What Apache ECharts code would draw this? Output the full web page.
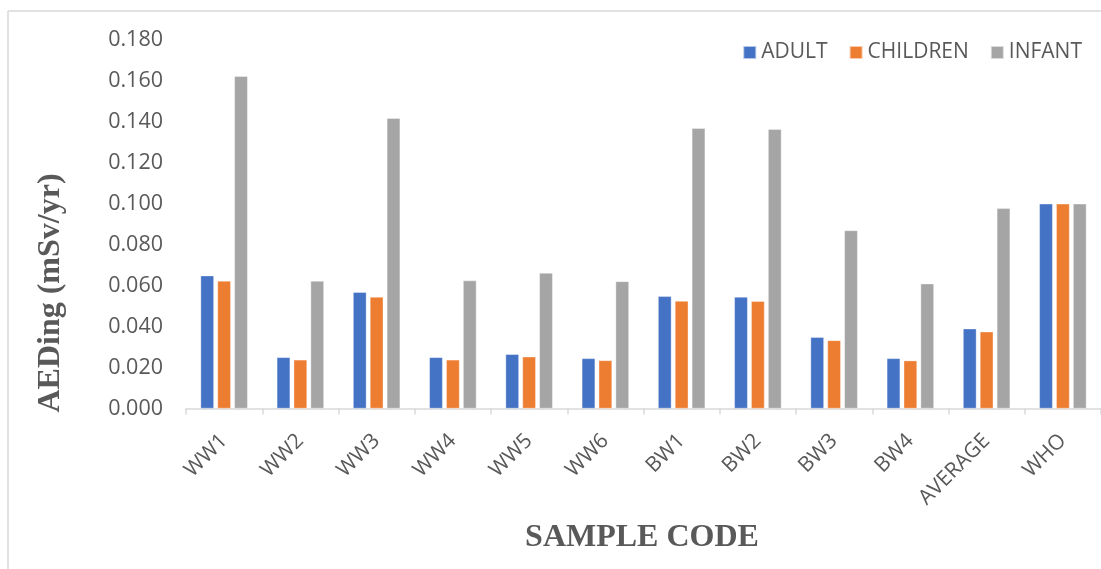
<!DOCTYPE html>
<html>
<head>
<meta charset="utf-8">
<script src="https://cdn.jsdelivr.net/npm/echarts@6/dist/echarts.min.js"></script>
<style>
html,body{margin:0;padding:0;background:#fff;}
#chart{width:1101px;height:569px;}
</style>
</head>
<body>
<div id="chart"></div>
<script>
var categories = ['WW1','WW2','WW3','WW4','WW5','WW6','BW1','BW2','BW3','BW4','AVERAGE','WHO'];
var adult    = [0.0649, 0.0250, 0.0568, 0.0250, 0.0265, 0.0245, 0.0548, 0.0545, 0.0348, 0.0245, 0.0390, 0.1000];
var children = [0.0623, 0.0238, 0.0545, 0.0238, 0.0253, 0.0235, 0.0525, 0.0524, 0.0333, 0.0234, 0.0375, 0.1000];
var infant   = [0.1623, 0.0623, 0.1418, 0.0625, 0.0662, 0.0621, 0.1369, 0.1364, 0.0870, 0.0610, 0.0978, 0.1000];
var seriesNames = ['ADULT','CHILDREN','INFANT'];
var yTitle = 'AEDing (mSv/yr)';
var xTitle = 'SAMPLE CODE';

var colors = ['#4472C4','#ED7D31','#A5A5A5'];
var sans = '"Open Sans", sans-serif';
var serif = '"Liberation Serif", "Times New Roman", serif';
var chart = echarts.init(document.getElementById('chart'));
function mk(name, data, i){
  return {
    name: name, type: 'bar', data: data,
    barWidth: 13.4, barGap: '26%',
    itemStyle: {color: colors[i], borderColor: 'rgba(255,255,255,0.6)', borderWidth: 0.6},
    emphasis: {disabled: true}
  };
}
chart.setOption({
  animation: false,
  color: colors,
  grid: {left: 186, top: 40, bottom: 160.5, width: 915.6},
  legend: {
    right: 14, top: 37,
    itemWidth: 13, itemHeight: 13, itemGap: 21,
    icon: 'rect',
    textStyle: {fontFamily: sans, fontSize: 21, color: '#595959'},
    data: seriesNames
  },
  xAxis: {
    type: 'category', data: categories,
    axisLine: {lineStyle: {color: '#d9d9d9', width: 1.5}},
    axisTick: {show: true, length: 6, lineStyle: {color: '#d9d9d9', width: 1.5}},
    axisLabel: {rotate: 45, margin: 29, fontFamily: sans, fontSize: 21, color: '#595959', interval: 0}
  },
  yAxis: {
    type: 'value', min: 0, max: 0.18, interval: 0.02,
    splitLine: {show: false},
    axisLine: {show: false}, axisTick: {show: false},
    axisLabel: {margin: 23, fontFamily: sans, fontSize: 21.5, color: '#595959',
      formatter: function(v){ return v.toFixed(3); }}
  },
  graphic: [
    {type: 'line', shape: {x1: 8, y1: 11, x2: 1101, y2: 11}, style: {stroke: '#d9d9d9', lineWidth: 1.5}},
    {type: 'line', shape: {x1: 8, y1: 11, x2: 8, y2: 569}, style: {stroke: '#d9d9d9', lineWidth: 1.5}},
    {type: 'text', x: 51, y: 293, rotation: Math.PI/2,
      style: {text: yTitle, font: 'bold 32px ' + serif, fill: '#595959', textAlign: 'center', textVerticalAlign: 'middle'}},
    {type: 'text', x: 642, y: 538,
      style: {text: xTitle, font: 'bold 32px ' + serif, fill: '#595959', textAlign: 'center', textVerticalAlign: 'middle'}}
  ],
  series: [mk(seriesNames[0], adult, 0), mk(seriesNames[1], children, 1), mk(seriesNames[2], infant, 2)]
});
</script>
</body>
</html>
